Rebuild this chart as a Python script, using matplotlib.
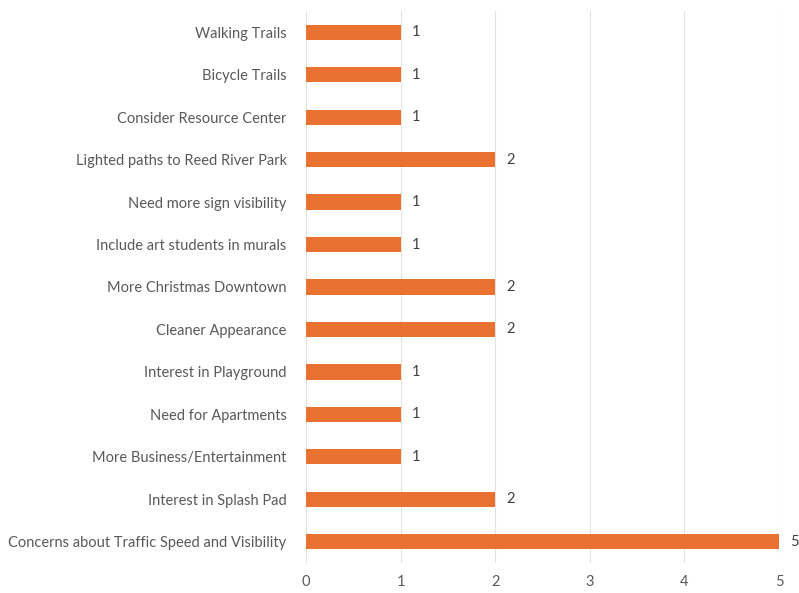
import matplotlib
matplotlib.use("Agg")
import matplotlib.pyplot as plt

# ── Data (top to bottom as shown) ──────────────────────────────────
categories = [
    "Walking Trails",
    "Bicycle Trails",
    "Consider Resource Center",
    "Lighted paths to Reed River Park",
    "Need more sign visibility",
    "Include art students in murals",
    "More Christmas Downtown",
    "Cleaner Appearance",
    "Interest in Playground",
    "Need for Apartments",
    "More Business/Entertainment",
    "Interest in Splash Pad",
    "Concerns about Traffic Speed and Visibility",
]
counts = [1, 1, 1, 2, 1, 1, 2, 2, 1, 1, 1, 2, 5]
x_ticks = [0, 1, 2, 3, 4, 5]

BAR_COLOR = "#E97132"
TEXT_COLOR = "#595959"
plt.rcParams["font.family"] = ["Lato", "DejaVu Sans"]

fig = plt.figure(figsize=(7.99, 5.93), dpi=100)
ax = fig.add_axes([306 / 799, 1 - 563 / 593, (779 - 306) / 799, (563 - 11) / 593])

y = list(range(len(categories)))[::-1]
ax.barh(y, counts, height=0.36, color=BAR_COLOR, zorder=3)

for yi, val in zip(y, counts):
    ax.text(val + 0.12, yi, str(val), va="center", ha="left",
            fontsize=10.5, color="#404040")

ax.set_yticks(y)
ax.set_yticklabels(categories, fontsize=10.5, color=TEXT_COLOR)
ax.set_xticks(x_ticks)
ax.set_xticklabels([str(t) for t in x_ticks], fontsize=10.5, color=TEXT_COLOR)
ax.set_xlim(0, 5)
ax.set_ylim(-0.5, len(categories) - 0.5)

ax.grid(axis="x", color="#E3E3E3", linewidth=0.8, zorder=0)
ax.tick_params(axis="both", length=0)
ax.tick_params(axis="y", pad=14)
ax.tick_params(axis="x", pad=9)
for s in ax.spines.values():
    s.set_visible(False)

plt.savefig("out.png", dpi=100)
plt.close()
